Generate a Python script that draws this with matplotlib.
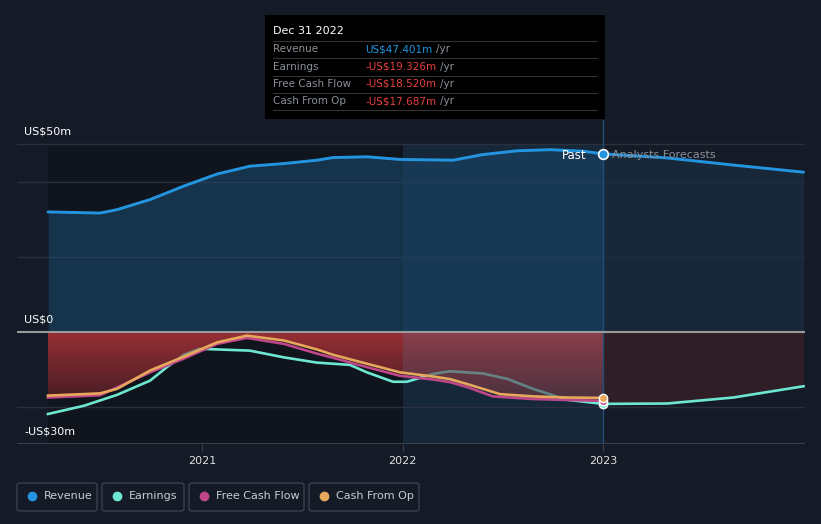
import numpy as np
import matplotlib.pyplot as plt
from matplotlib.patches import FancyBboxPatch, Rectangle
from matplotlib.lines import Line2D
from matplotlib.colors import LinearSegmentedColormap

# values in US$m, x in decimal years
rev_years = [2020.232, 2020.491, 2020.576, 2020.741, 2020.910, 2021.075, 2021.239, 2021.409, 2021.574,
             2021.653, 2021.823, 2021.988, 2022.252, 2022.401, 2022.571, 2022.736, 2022.900, 2023.0]
revenue = [31.9, 31.6, 32.5, 35.2, 38.8, 42.0, 44.1, 44.8, 45.7,
           46.4, 46.6, 45.9, 45.7, 47.2, 48.2, 48.5, 48.1, 47.4]
rev_fc_years = [2023.0, 2023.32, 2023.65, 2024.0]
revenue_fc = [47.4, 46.3, 44.4, 42.5]

earn_years = [2020.232, 2020.411, 2020.576, 2020.741, 2020.825, 2020.910, 2020.990, 2021.239, 2021.409,
              2021.574, 2021.738, 2021.823, 2021.953, 2022.022, 2022.152, 2022.237, 2022.401, 2022.521,
              2022.651, 2022.820, 2023.0]
earnings = [-22.0, -19.8, -16.9, -13.1, -9.5, -6.2, -4.6, -5.1, -6.9,
            -8.3, -8.9, -10.9, -13.4, -13.4, -11.3, -10.6, -11.2, -12.6,
            -15.3, -18.2, -19.3]
earn_fc_years = [2023.0, 2023.32, 2023.65, 2024.0]
earnings_fc = [-19.3, -19.2, -17.6, -14.6]

fcf_years = [2020.232, 2020.491, 2020.741, 2020.910, 2021.075, 2021.224, 2021.409, 2021.574, 2021.653,
             2021.823, 2021.988, 2022.152, 2022.237, 2022.322, 2022.451, 2022.651, 2023.0]
fcf = [-17.6, -17.0, -10.9, -7.2, -3.3, -1.7, -3.3, -5.9, -7.0,
       -9.5, -11.8, -12.8, -13.5, -14.8, -17.3, -18.0, -18.5]

cfo_years = [2020.232, 2020.491, 2020.576, 2020.741, 2020.910, 2021.075, 2021.224, 2021.409, 2021.574,
             2021.653, 2021.823, 2021.988, 2022.152, 2022.237, 2022.322, 2022.486, 2022.651, 2022.820, 2023.0]
cfo = [-17.1, -16.5, -15.3, -10.4, -6.7, -2.9, -1.1, -2.4, -4.8,
       -6.2, -8.6, -10.9, -12.0, -12.7, -14.0, -16.7, -17.3, -17.6, -17.7]

year_ticks = [2021, 2022, 2023]

bg = "#151b26"
c_rev = "#2394df"
c_earn = "#6ee7d2"
c_fcf = "#c0468a"
c_cfo = "#e8a85c"
c_neg = "#e8403f"

W, H = 821, 524
fig = plt.figure(figsize=(W / 100, H / 100), dpi=100)
fig.patch.set_facecolor(bg)

# axes: x 17..805 px, y 120..444 px
ax = fig.add_axes([17 / W, 1 - 444 / H, (805 - 17) / W, (444 - 120) / H])
ax.set_facecolor(bg)
x0 = 2021 + (17 - 202) / 200.5
x1 = 2021 + (805 - 202) / 200.5
ax.set_xlim(x0, x1)
ytop = 50 + 24 / 3.74
ax.set_ylim(-30, ytop)

# background regions
ax.fill_between([rev_years[0], 2022], -30, 50, color="#10141c", lw=0, zorder=0)
ax.fill_between([2022, 2023], -30, 50, color="#173049", alpha=0.6, lw=0, zorder=0)

for g in [50, 40, 20, -20]:
    ax.axhline(g, color="#2a313d", lw=1, zorder=1)

# revenue fill
ax.fill_between(rev_years, revenue, 0, color="#1a4466", alpha=0.65, lw=0, zorder=2)
ax.fill_between(rev_fc_years, revenue_fc, 0, color="#1a2c3e", alpha=0.8, lw=0, zorder=2)

# red gradient under cash from op (second layer sits over the earnings line)
poly = ax.fill_between(cfo_years, cfo, 0, color="none", lw=0, zorder=2)
clip = poly.get_paths()[0]
reds = LinearSegmentedColormap.from_list("reds", ["#3a1c24", "#a03036"])
grad = np.linspace(0, 1, 100).reshape(-1, 1)
for z, a in [(2.0, 0.9), (2.7, 0.5)]:
    img = ax.imshow(grad, cmap=reds, origin="lower", aspect="auto", alpha=a,
                    extent=[cfo_years[0], 2023, -22, 0], zorder=z)
    img.set_clip_path(clip, transform=ax.transData)
tint = Rectangle((2022, -22), 1, 22, facecolor="#5a7aa0", alpha=0.2, lw=0, zorder=2.8)
ax.add_patch(tint)
tint.set_clip_path(clip, transform=ax.transData)
ax.fill_between(earn_fc_years, earnings_fc, 0, color="#2f1e26", lw=0, zorder=2)

ax.axhline(0, color="#9a9a9a", lw=1.5, zorder=4)
ax.axhline(-30, color="#3a404c", lw=1.5, zorder=4)
ax.plot([2023, 2023], [-30, ytop], color="#1f4f78", lw=1, zorder=3)

ax.plot(rev_years, revenue, color=c_rev, lw=2.1, zorder=5, solid_capstyle="round")
ax.plot(rev_fc_years, revenue_fc, color=c_rev, lw=2.1, zorder=5, solid_capstyle="round")
ax.plot(earn_years, earnings, color=c_earn, lw=1.9, zorder=2.5)
ax.plot(earn_fc_years, earnings_fc, color=c_earn, lw=1.9, zorder=5)
ax.plot(fcf_years, fcf, color=c_fcf, lw=1.9, zorder=6)
ax.plot(cfo_years, cfo, color=c_cfo, lw=1.9, zorder=7)

for vals, col in [(earnings, c_earn), (fcf, c_fcf), (cfo, c_cfo)]:
    ax.plot(2023, vals[-1], "o", ms=6, color=col, mec="white", mew=1, zorder=8)
ax.plot(2023, revenue[-1], "o", ms=7, color=c_rev, mec="white", mew=1.2, zorder=8)

ax.text(2023 - 0.08, revenue[-1] - 0.4, "Past", color="white", fontsize=8.5, ha="right", va="center", zorder=9)
ax.text(2023 + 0.045, revenue[-1] - 0.4, "Analysts Forecasts", color="#8a8f98", fontsize=8,
        ha="left", va="center", zorder=9)

ax.set_xticks(year_ticks)
ax.set_xticklabels([str(y) for y in year_ticks])
ax.tick_params(axis="x", colors="#3a404c", length=5, labelcolor="#e0e0e0", labelsize=8)
ax.set_yticks([])
for s in ax.spines.values():
    s.set_visible(False)

# y labels
fig.text(24 / W, 1 - 132 / H, "US$50m", color="white", fontsize=8, va="center")
fig.text(24 / W, 1 - 320 / H, "US$0", color="white", fontsize=8, va="center")
fig.text(24 / W, 1 - 432 / H, "-US$30m", color="white", fontsize=8, va="center")

# tooltip
fig.patches.append(Rectangle((265 / W, 1 - 119 / H), 340 / W, 104 / H, transform=fig.transFigure,
                             facecolor="black", edgecolor="none", zorder=10))
fig.text(273 / W, 1 - 31 / H, "Dec 31 2022", color="white", fontsize=8, va="center", zorder=11)
rows = [("Revenue", "US$47.401m", c_rev), ("Earnings", "-US$19.326m", c_neg),
        ("Free Cash Flow", "-US$18.520m", c_neg), ("Cash From Op", "-US$17.687m", c_neg)]
renderer = fig.canvas.get_renderer()
for i, (lab, val, col) in enumerate(rows):
    yy = 49 + i * 17.5
    fig.lines.append(Line2D([273 / W, 597 / W], [1 - (yy - 8.5) / H] * 2, transform=fig.transFigure,
                            color="#333", lw=0.8, zorder=11))
    fig.text(273 / W, 1 - yy / H, lab, color="#8a8f98", fontsize=7.5, va="center", zorder=11)
    t = fig.text(365 / W, 1 - yy / H, val, color=col, fontsize=7.5, va="center", zorder=11)
    x_end = t.get_window_extent(renderer).x1
    fig.text((x_end + 4) / W, 1 - yy / H, "/yr", color="#8a8f98", fontsize=7.5, va="center", zorder=11)
fig.lines.append(Line2D([273 / W, 597 / W], [1 - 110 / H] * 2, transform=fig.transFigure,
                        color="#333", lw=0.8, zorder=11))

# legend boxes
legend = [("Revenue", c_rev, 17, 97), ("Earnings", c_earn, 102, 184),
          ("Free Cash Flow", c_fcf, 189, 304), ("Cash From Op", c_cfo, 309, 419)]
for lab, col, lx, rx in legend:
    fig.patches.append(FancyBboxPatch((lx / W, 1 - 511 / H), (rx - lx) / W, 28 / H,
                                      boxstyle="round,pad=0,rounding_size=0.004", transform=fig.transFigure,
                                      facecolor="none", edgecolor="#3a404c", lw=1))
    fig.lines.append(Line2D([(lx + 15) / W], [1 - 496 / H], marker="o", ms=6, color=col,
                            transform=fig.transFigure))
    fig.text((lx + 27) / W, 1 - 496 / H, lab, color="#c8ccd2", fontsize=8, va="center")

fig.savefig("out.png", dpi=100, facecolor=bg)
